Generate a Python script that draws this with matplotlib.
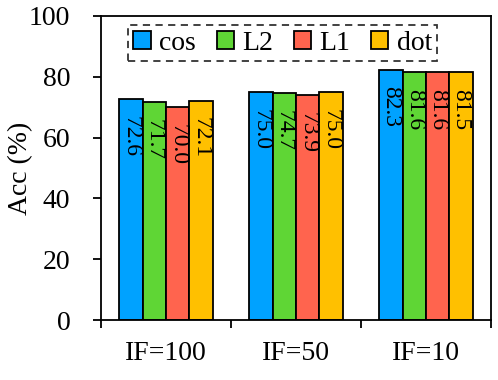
import matplotlib
matplotlib.use("Agg")
import matplotlib.pyplot as plt
import numpy as np

categories = ["IF=100", "IF=50", "IF=10"]
series = ["cos", "L2", "L1", "dot"]
values = {
    "cos": [72.6, 75.0, 82.3],
    "L2": [71.7, 74.7, 81.6],
    "L1": [70.0, 73.9, 81.6],
    "dot": [72.1, 75.0, 81.5],
}
colors = ["#00A2FF", "#5FD635", "#FF644E", "#FFC000"]

plt.rcParams["font.family"] = ["Liberation Serif", "DejaVu Serif"]

fig = plt.figure(figsize=(4.98, 3.8), dpi=100)
ax = fig.add_axes([101/498, 60/380, 390/498, 304/380])

x = np.arange(len(categories))
w = 0.18
for i, s in enumerate(series):
    pos = x + (i - 1.5) * w
    bars = ax.bar(pos, values[s], w, color=colors[i], edgecolor="black", linewidth=1.3, label=s)
    for b, v in zip(bars, values[s]):
        ax.annotate(f"{v:.1f}", (b.get_x() + b.get_width()/2, v), xytext=(0, -12),
                    textcoords="offset points", ha="center", va="top",
                    rotation=-90, fontsize=17)

ax.set_xlim(-0.5, 2.5)
ax.set_ylim(0, 100)
ax.set_yticks([0, 20, 40, 60, 80, 100])
ax.tick_params(axis="y", labelsize=20, direction="out", length=6, width=1.3, pad=16)
ax.set_xticks([-0.5, 0.5, 1.5, 2.5])
ax.set_xticklabels([])
ax.tick_params(axis="x", which="major", direction="out", length=6, width=1.3)
ax.set_xticks(x, minor=True)
ax.set_xticklabels(categories, minor=True)
ax.tick_params(axis="x", which="minor", length=0, labelsize=20, pad=15)
ax.set_ylabel("Acc (%)", fontsize=20)
ax.yaxis.set_label_coords(-0.175, 0.5)
for sp in ax.spines.values():
    sp.set_linewidth(1.3)

leg = ax.legend(loc="upper left", bbox_to_anchor=(0.069, 0.97), ncol=4, fontsize=20,
                handlelength=0.62, handleheight=0.62, handletextpad=0.3,
                columnspacing=0.75, borderpad=0.2, borderaxespad=0, fancybox=False,
                frameon=True)
fr = leg.get_frame()
fr.set_edgecolor("black")
fr.set_linestyle((0, (4, 3)))
fr.set_linewidth(1.3)

fig.savefig("out.png", dpi=100)
